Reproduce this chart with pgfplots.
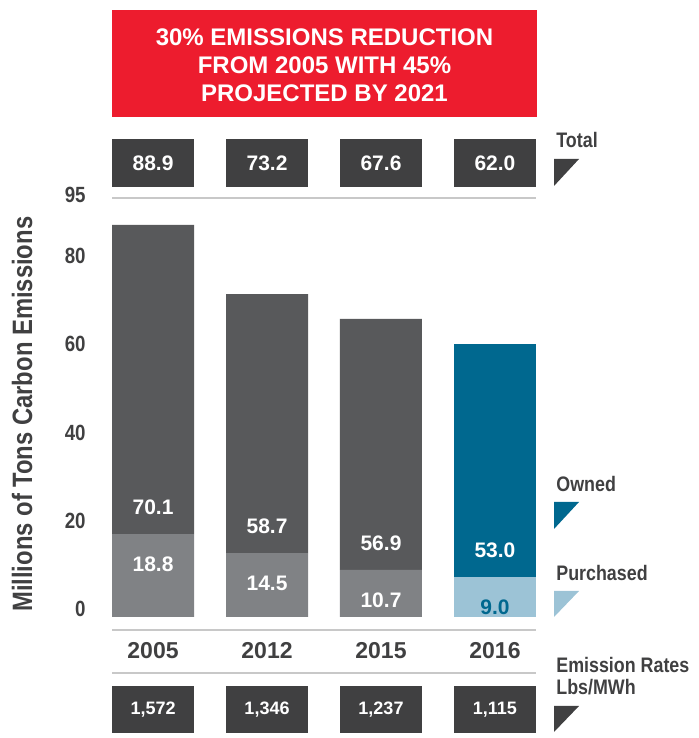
\documentclass[border=0pt]{standalone}
\usepackage{fontspec}
\setmainfont{Liberation Sans}
\newfontfamily\condfont[FakeStretch=0.85]{Liberation Sans}
\usepackage{pgfplots}
\pgfplotsset{compat=1.18}

\definecolor{bargray}{HTML}{58595B}
\definecolor{purgray}{HTML}{808285}
\definecolor{boxdark}{HTML}{404041}
\definecolor{ownblue}{HTML}{00688F}
\definecolor{purblue}{HTML}{9CC3D6}
\definecolor{bannerred}{HTML}{ED1C2E}
\definecolor{linegray}{HTML}{C8C8C8}
\definecolor{textgray}{HTML}{404041}

\begin{document}
\begin{tikzpicture}
\path[use as bounding box] (0,0) rectangle (349pt,369pt);

% banner
\fill[bannerred] (56pt,310.5pt) rectangle (268.5pt,364pt);
\node[text=white, align=center, font=\fontsize{12}{14}\selectfont\bfseries]
  at (162.25pt,336.5pt) {30\% EMISSIONS REDUCTION\\FROM 2005 WITH 45\%\\PROJECTED BY 2021};

\begin{axis}[
    at={(56pt,60.5pt)}, anchor=south west,
    scale only axis, width=212pt, height=209.5pt,
    ybar stacked, bar width=41pt,
    xmin=-0.36, xmax=3.36, ymin=0, ymax=95,
    axis line style={draw=none},
    major tick length=0pt,
    xtick={0,1,2,3},
    xticklabels={2005,2012,2015,2016},
    xticklabel style={anchor=center, yshift=-17pt, text=textgray,
        font=\fontsize{11.5}{13}\selectfont\bfseries},
    ytick={0,20,40,60,80},
    extra y ticks={95},
    extra y tick style={yticklabel style={yshift=-2.5pt}},
    yticklabel style={anchor=east, inner sep=0pt, xshift=-13pt, yshift=4pt,
        text=textgray, font=\fontsize{11}{13}\selectfont\condfont\bfseries},
    /pgf/number format/assume math mode=true,
    ylabel={Millions of Tons Carbon Emissions},
    ylabel style={at={(axis description cs:-0.212,0.484)}, anchor=center,
        text=textgray, font=\fontsize{14}{16}\selectfont\condfont\bfseries},
    clip=false,
]
% purchased
\addplot[fill=purgray, draw=none] coordinates {(0,18.8) (1,14.5) (2,10.7) (3,0)};
\addplot[fill=purblue, draw=none] coordinates {(0,0) (1,0) (2,0) (3,9.0)};
% owned
\addplot[fill=bargray, draw=none] coordinates {(0,70.1) (1,58.7) (2,56.9) (3,0)};
\addplot[fill=ownblue, draw=none] coordinates {(0,0) (1,0) (2,0) (3,53.0)};

% split points between purchased and owned, labelled after the axis
\coordinate (s0) at (axis cs:0,18.8);
\coordinate (s1) at (axis cs:1,14.5);
\coordinate (s2) at (axis cs:2,10.7);
\coordinate (s3) at (axis cs:3,9.0);

% total boxes
\tikzset{tot/.style={fill=boxdark, text=white, inner sep=0pt,
    minimum width=41pt, minimum height=24pt, yshift=17.5pt,
    font=\fontsize{10.5}{12}\selectfont\bfseries}}
\node[tot] at (axis cs:0,95) {88.9};
\node[tot] at (axis cs:1,95) {73.2};
\node[tot] at (axis cs:2,95) {67.6};
\node[tot] at (axis cs:3,95) {62.0};

% emission rate boxes
\tikzset{rate/.style={fill=boxdark, text=white, inner sep=0pt,
    minimum width=41pt, minimum height=23.5pt, yshift=-46.25pt,
    font=\fontsize{9}{11}\selectfont\bfseries}}
\node[rate] at (axis cs:0,0) {1,572};
\node[rate] at (axis cs:1,0) {1,346};
\node[rate] at (axis cs:2,0) {1,237};
\node[rate] at (axis cs:3,0) {1,115};

\draw[linegray, line width=1pt] (axis cs:-0.36,95) -- (axis cs:3.36,95);
\end{axis}

% segment labels
\tikzset{seg/.style={font=\fontsize{10.5}{12}\selectfont\bfseries, text=white}}
\node[seg, yshift=13.5pt] at (s0) {70.1};
\node[seg, yshift=13.5pt] at (s1) {58.7};
\node[seg, yshift=13.5pt] at (s2) {56.9};
\node[seg, yshift=13.5pt] at (s3) {53.0};
\node[seg, yshift=-15pt] at (s0) {18.8};
\node[seg, yshift=-15pt] at (s1) {14.5};
\node[seg, yshift=-15pt] at (s2) {10.7};
\node[seg, yshift=-15pt, text=ownblue] at (s3) {9.0};

% separator lines
\draw[linegray, line width=1pt] (56pt,54pt) -- (268pt,54pt);
\draw[linegray, line width=1pt] (56pt,32.5pt) -- (268pt,32.5pt);

% legend
\tikzset{leg/.style={anchor=base west, inner sep=0pt, text=textgray,
    font=\fontsize{10.5}{11}\selectfont\condfont\bfseries}}
\node[leg] at (278pt,295pt) {Total};
\fill[boxdark] (277pt,289.5pt) -- (289.5pt,289.5pt) -- (277pt,276pt) -- cycle;
\node[leg] at (278pt,123pt) {Owned};
\fill[ownblue] (277pt,118pt) -- (289.5pt,118pt) -- (277pt,104.5pt) -- cycle;
\node[leg] at (278pt,78.5pt) {Purchased};
\fill[purblue] (277pt,73.5pt) -- (289.5pt,73.5pt) -- (277pt,60.5pt) -- cycle;
\node[leg] at (278pt,32.5pt) {Emission Rates};
\node[leg] at (278pt,21.5pt) {Lbs/MWh};
\fill[boxdark] (277pt,16pt) -- (289.5pt,16pt) -- (277pt,3pt) -- cycle;
\end{tikzpicture}
\end{document}
